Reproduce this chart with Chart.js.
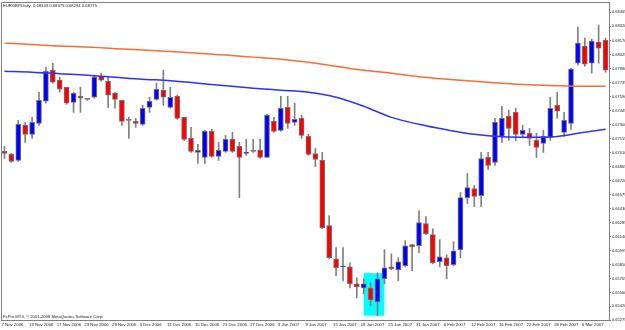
<!DOCTYPE html>
<html>
<head>
<meta charset="utf-8">
<script src="https://cdn.jsdelivr.net/npm/chart.js@4"></script>
<style>
  html, body { margin: 0; padding: 0; background: #fff; }
  #wrap { width: 625px; height: 330px; }
</style>
</head>
<body>
<div id="wrap"><canvas id="chart" width="625" height="330"></canvas></div>
<script>
// EURGBP daily candles, 7 Nov 2006 .. 9 Mar 2007 (88 bars)
const dateTicks = ['7 Nov 2006', '13 Nov 2006', '17 Nov 2006', '23 Nov 2006', '29 Nov 2006', '5 Dec 2006',
  '11 Dec 2006', '15 Dec 2006', '21 Dec 2006', '27 Dec 2006', '3 Jan 2007', '9 Jan 2007', '15 Jan 2007',
  '19 Jan 2007', '25 Jan 2007', '31 Jan 2007', '6 Feb 2007', '12 Feb 2007', '16 Feb 2007', '22 Feb 2007',
  '28 Feb 2007', '6 Mar 2007'];

const priceTicks = [0.68465, 0.68320, 0.68170, 0.68025, 0.67880, 0.67735, 0.67590, 0.67445, 0.67300,
  0.67155, 0.67010, 0.66865, 0.66720, 0.66575, 0.66430, 0.66285, 0.66140, 0.65995, 0.65850, 0.65705,
  0.65560, 0.65420, 0.65275];

const open = [0.67021, 0.66990, 0.66928, 0.67291, 0.67198, 0.67312, 0.67541, 0.67863, 0.67759, 0.67686,
  0.67530, 0.67593, 0.67561, 0.67582, 0.67800, 0.67748, 0.67624, 0.67551, 0.67343, 0.67333,
  0.67302, 0.67478, 0.67561, 0.67655, 0.67478, 0.67593, 0.67374, 0.67156, 0.67011, 0.66959,
  0.67229, 0.66969, 0.67021, 0.67146, 0.67073, 0.67000, 0.67021, 0.67032, 0.66959, 0.67333,
  0.67239, 0.67478, 0.67322, 0.67364, 0.67177, 0.67000, 0.66928, 0.66252, 0.65909, 0.65826,
  0.65826, 0.65650, 0.65608, 0.65608, 0.65463, 0.65702, 0.65826, 0.65795, 0.65837, 0.66055,
  0.66044, 0.66273, 0.66159, 0.65878, 0.65920, 0.65847, 0.66003, 0.66543, 0.66637, 0.66564,
  0.66959, 0.66907, 0.67177, 0.67385, 0.67426, 0.67198, 0.67208, 0.67135, 0.67104, 0.67167,
  0.67499, 0.67219, 0.67312, 0.67935, 0.68112, 0.67935, 0.68154, 0.68174];

const high = [0.67073, 0.67000, 0.67343, 0.67322, 0.67374, 0.67634, 0.67894, 0.67935, 0.67790, 0.67686,
  0.67634, 0.67686, 0.67572, 0.67800, 0.67832, 0.67790, 0.67634, 0.67551, 0.67374, 0.67364,
  0.67499, 0.67582, 0.67728, 0.67863, 0.67686, 0.67603, 0.67374, 0.67270, 0.67094, 0.67239,
  0.67250, 0.67115, 0.67187, 0.67219, 0.67115, 0.67146, 0.67146, 0.67146, 0.67406, 0.67374,
  0.67593, 0.67593, 0.67520, 0.67395, 0.67198, 0.67052, 0.67011, 0.66356, 0.66024, 0.66024,
  0.65868, 0.65712, 0.65702, 0.65660, 0.65764, 0.66003, 0.65961, 0.65920, 0.66096, 0.66055,
  0.66408, 0.66346, 0.66221, 0.66107, 0.65951, 0.66086, 0.66595, 0.66793, 0.66668, 0.67011,
  0.67011, 0.67364, 0.67489, 0.67447, 0.67468, 0.67291, 0.67260, 0.67208, 0.67239, 0.67582,
  0.67634, 0.67426, 0.67883, 0.68309, 0.68195, 0.68185, 0.68330, 0.68195];

const low = [0.66948, 0.66907, 0.66917, 0.67115, 0.67156, 0.67291, 0.67520, 0.67728, 0.67634, 0.67509,
  0.67426, 0.67426, 0.67551, 0.67572, 0.67748, 0.67478, 0.67468, 0.67291, 0.67156, 0.67270,
  0.67291, 0.67426, 0.67551, 0.67499, 0.67468, 0.67354, 0.67135, 0.67011, 0.66896, 0.66896,
  0.66959, 0.66928, 0.67011, 0.67011, 0.66543, 0.66980, 0.67011, 0.66948, 0.66959, 0.67219,
  0.67229, 0.67260, 0.67291, 0.67156, 0.66980, 0.66865, 0.66221, 0.65909, 0.65733, 0.65681,
  0.65608, 0.65504, 0.65546, 0.65421, 0.65317, 0.65650, 0.65795, 0.65681, 0.65826, 0.65785,
  0.65972, 0.66159, 0.65857, 0.65826, 0.65702, 0.65837, 0.65920, 0.66481, 0.66450, 0.66450,
  0.66834, 0.66876, 0.67115, 0.67135, 0.67135, 0.67167, 0.67083, 0.66959, 0.67011, 0.67135,
  0.67364, 0.67177, 0.67250, 0.67915, 0.67904, 0.67832, 0.67935, 0.67842];

const close = [0.67000, 0.66917, 0.67302, 0.67198, 0.67322, 0.67551, 0.67852, 0.67738, 0.67665, 0.67520,
  0.67624, 0.67572, 0.67561, 0.67790, 0.67759, 0.67603, 0.67561, 0.67333, 0.67343, 0.67312,
  0.67468, 0.67541, 0.67665, 0.67582, 0.67582, 0.67364, 0.67146, 0.67021, 0.67032, 0.67229,
  0.66969, 0.67032, 0.67146, 0.67021, 0.66959, 0.67011, 0.67021, 0.66959, 0.67395, 0.67229,
  0.67468, 0.67312, 0.67354, 0.67187, 0.66990, 0.66938, 0.66231, 0.65920, 0.65816, 0.65837,
  0.65650, 0.65618, 0.65650, 0.65483, 0.65702, 0.65816, 0.65805, 0.65878, 0.66044, 0.66034,
  0.66283, 0.66169, 0.65868, 0.65930, 0.65837, 0.65992, 0.66543, 0.66647, 0.66554, 0.66948,
  0.66876, 0.67322, 0.67364, 0.67260, 0.67198, 0.67239, 0.67156, 0.67063, 0.67177, 0.67468,
  0.67437, 0.67343, 0.67873, 0.68143, 0.67925, 0.68164, 0.68091, 0.67863];

// moving averages at every 4th bar
const maBars = [0, 4, 8, 12, 16, 20, 24, 28, 32, 36, 40, 44, 48, 52, 56, 60, 64, 68, 72, 76, 80, 84, 87];
const maSlow = [0.68143, 0.68128, 0.68112, 0.68102, 0.68086, 0.68071, 0.68055, 0.68039, 0.68019, 0.67998,
  0.67977, 0.67946, 0.67904, 0.67863, 0.67832, 0.67795, 0.67769, 0.67748, 0.67728, 0.67712, 0.67702,
  0.67697, 0.67697];
const maFast = [0.67852, 0.67842, 0.67826, 0.67811, 0.67790, 0.67769, 0.67754, 0.67728, 0.67702, 0.67676,
  0.67655, 0.67634, 0.67582, 0.67489, 0.67374, 0.67302, 0.67245, 0.67198, 0.67172, 0.67167, 0.67177,
  0.67219, 0.67250];

// highlighted box (bars 52..55)
const boxBars = [52, 55];
const boxPrices = [0.6576, 0.6532];

const title = 'EURGBP,Daily  0.68343 0.68375 0.68294 0.68775';
const footer = 'FxPro MT4, \u00A9 2001-2008 MetaQuotes Software Corp.';

const FONT = 'Liberation Sans';
const labels = open.map((_, i) => i % 4 === 0 ? (dateTicks[i / 4] || '') : '');

function spread(vals) {
  const out = new Array(open.length).fill(null);
  maBars.forEach((b, j) => { out[b] = vals[j]; });
  return out;
}

const bodyColors = open.map((o, i) => close[i] > o ? '#0000ff' : close[i] < o ? '#ff0000' : '#808080');

const boxPlugin = {
  id: 'box',
  beforeDatasetsDraw(chart) {
    const { ctx, scales: { x, y } } = chart;
    const x0 = x.getPixelForValue(boxBars[0]), x1 = x.getPixelForValue(boxBars[1]);
    const y0 = y.getPixelForValue(boxPrices[0]), y1 = y.getPixelForValue(boxPrices[1]);
    ctx.save();
    ctx.fillStyle = '#00ffff';
    ctx.fillRect(x0, y0, x1 - x0, y1 - y0);
    ctx.restore();
  }
};

const framePlugin = {
  id: 'frame',
  afterDraw(chart) {
    const { ctx, chartArea: a } = chart;
    ctx.save();
    ctx.strokeStyle = '#808080';
    ctx.lineWidth = 1;
    ctx.beginPath();
    ctx.moveTo(a.left + 0.5, a.bottom);
    ctx.lineTo(a.left + 0.5, a.top + 0.5);
    ctx.lineTo(a.right, a.top + 0.5);
    ctx.stroke();
    ctx.fillStyle = '#222';
    ctx.font = '4.2px "' + FONT + '"';
    ctx.textBaseline = 'top';
    ctx.fillText(title, a.left + 2, a.top + 1.5);
    ctx.textBaseline = 'bottom';
    ctx.fillText(footer, a.left + 2, a.bottom - 1);
    ctx.restore();
  }
};

new Chart(document.getElementById('chart'), {
  type: 'bar',
  data: {
    labels,
    datasets: [
      {
        type: 'line', data: spread(maSlow), borderColor: '#ff6a33', borderWidth: 1.5,
        pointRadius: 0, spanGaps: true, cubicInterpolationMode: 'monotone'
      },
      {
        type: 'line', data: spread(maFast), borderColor: '#3030ff', borderWidth: 1.5,
        pointRadius: 0, spanGaps: true, cubicInterpolationMode: 'monotone'
      },
      {
        data: open.map((o, i) => [o, close[i]]),
        backgroundColor: bodyColors, borderColor: '#707070', borderWidth: 1,
        borderSkipped: false, barThickness: 5, minBarLength: 1, grouped: false
      },
      {
        data: low.map((l, i) => [l, high[i]]),
        backgroundColor: '#808080', borderWidth: 0, barThickness: 1, grouped: false
      }
    ]
  },
  options: {
    responsive: false,
    animation: false,
    devicePixelRatio: 1,
    layout: { padding: { left: 1, top: 2, right: 0, bottom: 0 } },
    plugins: { legend: { display: false }, tooltip: { enabled: false } },
    scales: {
      x: {
        offset: true,
        afterFit: s => { s.height = 10; s.paddingLeft = 0; s.paddingRight = 0; },
        ticks: {
          autoSkip: false, maxRotation: 0, minRotation: 0, align: 'start', labelOffset: -3,
          padding: 2, color: '#222', font: { family: FONT, size: 4.3 }
        },
        grid: { display: false, drawTicks: false },
        border: { color: '#808080' }
      },
      y: {
        position: 'right',
        min: 0.65275,
        max: 0.68569,
        afterBuildTicks: s => { s.ticks = priceTicks.map(v => ({ value: v })); },
        afterFit: s => { s.width = 16; s.paddingTop = 0; s.paddingBottom = 0; },
        ticks: {
          autoSkip: false, padding: 1, color: '#222', font: { family: FONT, size: 4 },
          callback: v => v.toFixed(5)
        },
        grid: { drawOnChartArea: false, tickLength: 2, color: '#808080' },
        border: { color: '#808080' }
      }
    }
  },
  plugins: [boxPlugin, framePlugin]
});
</script>
</body>
</html>
